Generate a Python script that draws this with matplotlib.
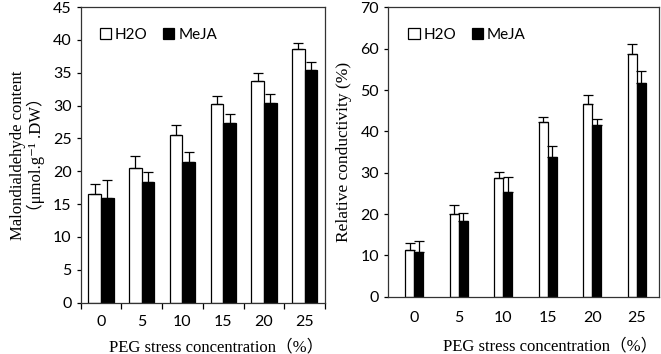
import numpy as np
import matplotlib
matplotlib.use("Agg")
import matplotlib.pyplot as plt
from matplotlib.patches import Patch

# PEG stress concentration (%)
conc = ["0", "5", "10", "15", "20", "25"]

# Malondialdehyde content
mda_h2o = [16.5, 20.5, 25.6, 30.2, 33.7, 38.6]
mda_h2o_err = [1.6, 1.9, 1.5, 1.3, 1.3, 1.0]
mda_meja = [16.0, 18.4, 21.4, 27.3, 30.4, 35.4]
mda_meja_err = [2.7, 1.5, 1.6, 1.4, 1.3, 1.2]

# Relative conductivity
rc_h2o = [11.3, 19.9, 28.6, 42.3, 46.6, 58.7]
rc_h2o_err = [1.8, 2.2, 1.6, 1.3, 2.2, 2.5]
rc_meja = [10.9, 18.4, 25.4, 33.9, 41.5, 51.8]
rc_meja_err = [2.5, 1.85, 3.6, 2.6, 1.5, 2.8]

tick_font = 'Lato'
serif = ['Liberation Serif', 'DejaVu Serif', 'Noto Sans CJK SC']

fig = plt.figure(figsize=(6.61, 3.54), dpi=100)
ax1 = fig.add_axes([0.122, 0.145, 0.3697, 0.835])
ax2 = fig.add_axes([0.5874, 0.162, 0.4096, 0.817])

x = np.arange(len(conc))


def draw(ax, h2o, h2o_err, meja, meja_err, width):
    ax.bar(x - width / 2, h2o, width, color='white', edgecolor='black', lw=0.9,
           yerr=[np.zeros(len(h2o)), h2o_err], capsize=3.5,
           error_kw=dict(ecolor='black', elinewidth=0.9, capthick=0.9))
    ax.bar(x + width / 2, meja, width, color='black', edgecolor='black', lw=0.9,
           yerr=[np.zeros(len(meja)), meja_err], capsize=3.5,
           error_kw=dict(ecolor='black', elinewidth=0.9, capthick=0.9))
    for s in ax.spines.values():
        s.set_linewidth(0.9)
        s.set_color('#333333')
    handles = [Patch(facecolor='white', edgecolor='black', lw=0.9),
               Patch(facecolor='black', edgecolor='black', lw=0.9)]
    ax.legend(handles, ['H2O', 'MeJA'], loc='upper left', bbox_to_anchor=(0.04, 0.96),
              ncol=2, frameon=False, prop={'family': tick_font, 'size': 11},
              handlelength=0.75, handleheight=0.75, handletextpad=0.25,
              columnspacing=1.0, borderaxespad=0.2)
    ax.tick_params(axis='y', direction='out', length=3, width=0.9, labelsize=11.5)
    ax.set_xticks(x)
    ax.set_xticklabels(conc, fontsize=11.5)
    for lab in ax.get_yticklabels() + ax.get_xticklabels():
        lab.set_family(tick_font)


# left panel
draw(ax1, mda_h2o, mda_h2o_err, mda_meja, mda_meja_err, 0.31)
ax1.set_xlim(-0.5, 5.5)
ax1.set_ylim(0, 45)
ax1.set_yticks(np.arange(0, 46, 5))
for lab in ax1.get_yticklabels():
    lab.set_family(tick_font)
ax1.set_xticks(np.arange(-0.5, 6, 1), minor=True)
ax1.tick_params(axis='x', which='major', length=0, pad=9)
ax1.tick_params(axis='x', which='minor', direction='out', length=4, width=0.9)
ax1.set_ylabel('Malondialdehyde content\n（μmol.g⁻¹ .DW）', family=serif,
               fontsize=12, linespacing=1.05, labelpad=6)
ax1.set_xlabel('PEG stress concentration（%）', family=serif, fontsize=12)
ax1.xaxis.set_label_coords(0.554, -0.123)

# right panel
draw(ax2, rc_h2o, rc_h2o_err, rc_meja, rc_meja_err, 0.2)
ax2.set_xlim(-0.585, 5.5)
ax2.set_ylim(0, 70)
ax2.set_yticks(np.arange(0, 71, 10))
for lab in ax2.get_yticklabels():
    lab.set_family(tick_font)
ax2.tick_params(axis='x', length=0, pad=10)
ax2.set_ylabel('Relative conductivity (%)', family=serif, fontsize=12.5, labelpad=6)
ax2.set_xlabel('PEG stress concentration（%）', family=serif, fontsize=12)
ax2.xaxis.set_label_coords(0.599, -0.146)

fig.savefig('out.png', dpi=100)
